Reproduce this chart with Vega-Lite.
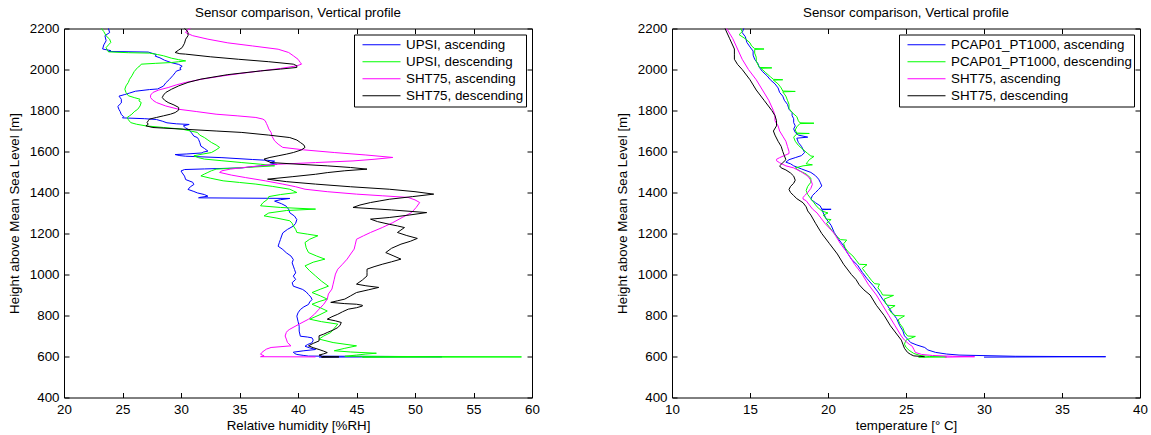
{
"$schema": "https://vega.github.io/schema/vega-lite/v6.json",
"padding": {"left": 6, "top": 5.5, "right": 0, "bottom": 0},
"config": {
  "font": "Liberation Sans",
  "view": {"stroke": "#000", "strokeWidth": 1},
  "axis": {"domain": false, "grid": false, "ticks": true, "tickSize": -5, "tickColor": "#000", "tickWidth": 1, "labelFontSize": 13.33, "labelColor": "#000", "labelFlush": false, "labelOverlap": false, "labelPadding": 10, "titleFontSize": 13.33, "titleFontWeight": "normal", "titleColor": "#000", "format": "d"},
  "axisY": {"titlePadding": 8},
  "axisX": {"titlePadding": 3},
  "title": {"fontSize": 13.33, "fontWeight": "normal", "color": "#000", "baseline": "alphabetic", "offset": 2},
  "legend": {"orient": "top-right", "offset": 6, "strokeColor": "#000", "fillColor": "#fff", "padding": 2, "symbolType": "stroke", "symbolSize": 1444, "symbolStrokeWidth": 1, "clipHeight": 16.5, "rowPadding": 0, "symbolOffset": 6, "labelOffset": 5, "labelFontSize": 13.33, "labelColor": "#000", "labelLimit": 400, "cornerRadius": 0}
},
"datasets": {
"rh": [
{"s":"UPSI, ascending","x":23.8,"h":2200},{"s":"UPSI, ascending","x":23.9,"h":2180},{"s":"UPSI, ascending","x":23.5,"h":2165},{"s":"UPSI, ascending","x":23.6,"h":2140},{"s":"UPSI, ascending","x":23.4,"h":2120},{"s":"UPSI, ascending","x":23.3,"h":2100},{"s":"UPSI, ascending","x":24.0,"h":2092},{"s":"UPSI, ascending","x":23.8,"h":2088},{"s":"UPSI, ascending","x":27.2,"h":2085},{"s":"UPSI, ascending","x":27.6,"h":2078},{"s":"UPSI, ascending","x":27.9,"h":2073},{"s":"UPSI, ascending","x":27.8,"h":2065},{"s":"UPSI, ascending","x":28.2,"h":2057},{"s":"UPSI, ascending","x":28.6,"h":2045},{"s":"UPSI, ascending","x":29.2,"h":2033},{"s":"UPSI, ascending","x":29.8,"h":2025},{"s":"UPSI, ascending","x":30.1,"h":2016},{"s":"UPSI, ascending","x":29.9,"h":2008},{"s":"UPSI, ascending","x":30.0,"h":2000},{"s":"UPSI, ascending","x":29.6,"h":1992},{"s":"UPSI, ascending","x":29.5,"h":1984},{"s":"UPSI, ascending","x":29.3,"h":1970},{"s":"UPSI, ascending","x":29.0,"h":1951},{"s":"UPSI, ascending","x":28.7,"h":1935},{"s":"UPSI, ascending","x":28.5,"h":1919},{"s":"UPSI, ascending","x":28.0,"h":1905},{"s":"UPSI, ascending","x":27.3,"h":1902},{"s":"UPSI, ascending","x":26.1,"h":1894},{"s":"UPSI, ascending","x":25.6,"h":1885},{"s":"UPSI, ascending","x":25.2,"h":1878},{"s":"UPSI, ascending","x":24.7,"h":1870},{"s":"UPSI, ascending","x":24.9,"h":1855},{"s":"UPSI, ascending","x":24.9,"h":1837},{"s":"UPSI, ascending","x":24.6,"h":1820},{"s":"UPSI, ascending","x":24.7,"h":1805},{"s":"UPSI, ascending","x":24.8,"h":1795},{"s":"UPSI, ascending","x":24.9,"h":1780},{"s":"UPSI, ascending","x":25.1,"h":1770},{"s":"UPSI, ascending","x":25.0,"h":1764},{"s":"UPSI, ascending","x":26.9,"h":1760},{"s":"UPSI, ascending","x":27.9,"h":1756},{"s":"UPSI, ascending","x":28.4,"h":1748},{"s":"UPSI, ascending","x":28.8,"h":1740},{"s":"UPSI, ascending","x":29.6,"h":1735},{"s":"UPSI, ascending","x":30.7,"h":1732},{"s":"UPSI, ascending","x":30.2,"h":1725},{"s":"UPSI, ascending","x":30.4,"h":1715},{"s":"UPSI, ascending","x":30.7,"h":1705},{"s":"UPSI, ascending","x":30.9,"h":1691},{"s":"UPSI, ascending","x":31.1,"h":1675},{"s":"UPSI, ascending","x":31.4,"h":1668},{"s":"UPSI, ascending","x":31.5,"h":1659},{"s":"UPSI, ascending","x":31.6,"h":1645},{"s":"UPSI, ascending","x":31.7,"h":1626},{"s":"UPSI, ascending","x":32.0,"h":1615},{"s":"UPSI, ascending","x":32.3,"h":1602},{"s":"UPSI, ascending","x":31.9,"h":1597},{"s":"UPSI, ascending","x":31.8,"h":1593},{"s":"UPSI, ascending","x":30.5,"h":1588},{"s":"UPSI, ascending","x":29.5,"h":1585},{"s":"UPSI, ascending","x":29.9,"h":1580},{"s":"UPSI, ascending","x":30.4,"h":1577},{"s":"UPSI, ascending","x":33.5,"h":1570},{"s":"UPSI, ascending","x":36.1,"h":1561},{"s":"UPSI, ascending","x":37.4,"h":1557},{"s":"UPSI, ascending","x":38.0,"h":1553},{"s":"UPSI, ascending","x":37.6,"h":1545},{"s":"UPSI, ascending","x":38.2,"h":1537},{"s":"UPSI, ascending","x":36.5,"h":1528},{"s":"UPSI, ascending","x":35.2,"h":1520},{"s":"UPSI, ascending","x":32.0,"h":1515},{"s":"UPSI, ascending","x":30.3,"h":1512},{"s":"UPSI, ascending","x":30.0,"h":1505},{"s":"UPSI, ascending","x":30.1,"h":1496},{"s":"UPSI, ascending","x":30.3,"h":1480},{"s":"UPSI, ascending","x":30.4,"h":1463},{"s":"UPSI, ascending","x":31.0,"h":1450},{"s":"UPSI, ascending","x":31.1,"h":1439},{"s":"UPSI, ascending","x":30.8,"h":1428},{"s":"UPSI, ascending","x":30.6,"h":1415},{"s":"UPSI, ascending","x":31.1,"h":1405},{"s":"UPSI, ascending","x":31.4,"h":1398},{"s":"UPSI, ascending","x":32.0,"h":1390},{"s":"UPSI, ascending","x":32.3,"h":1382},{"s":"UPSI, ascending","x":31.6,"h":1376},{"s":"UPSI, ascending","x":31.5,"h":1374},{"s":"UPSI, ascending","x":39.3,"h":1371},{"s":"UPSI, ascending","x":38.5,"h":1365},{"s":"UPSI, ascending","x":38.0,"h":1358},{"s":"UPSI, ascending","x":38.6,"h":1345},{"s":"UPSI, ascending","x":39.0,"h":1333},{"s":"UPSI, ascending","x":39.2,"h":1318},{"s":"UPSI, ascending","x":39.3,"h":1301},{"s":"UPSI, ascending","x":39.7,"h":1285},{"s":"UPSI, ascending","x":39.9,"h":1268},{"s":"UPSI, ascending","x":39.8,"h":1250},{"s":"UPSI, ascending","x":39.6,"h":1236},{"s":"UPSI, ascending","x":39.1,"h":1220},{"s":"UPSI, ascending","x":38.7,"h":1203},{"s":"UPSI, ascending","x":38.6,"h":1188},{"s":"UPSI, ascending","x":38.5,"h":1171},{"s":"UPSI, ascending","x":38.4,"h":1155},{"s":"UPSI, ascending","x":38.3,"h":1138},{"s":"UPSI, ascending","x":38.7,"h":1122},{"s":"UPSI, ascending","x":39.0,"h":1106},{"s":"UPSI, ascending","x":39.4,"h":1090},{"s":"UPSI, ascending","x":39.6,"h":1073},{"s":"UPSI, ascending","x":39.5,"h":1057},{"s":"UPSI, ascending","x":39.6,"h":1041},{"s":"UPSI, ascending","x":39.7,"h":1025},{"s":"UPSI, ascending","x":39.8,"h":1008},{"s":"UPSI, ascending","x":39.6,"h":992},{"s":"UPSI, ascending","x":39.8,"h":976},{"s":"UPSI, ascending","x":39.5,"h":960},{"s":"UPSI, ascending","x":39.6,"h":943},{"s":"UPSI, ascending","x":40.0,"h":935},{"s":"UPSI, ascending","x":40.4,"h":927},{"s":"UPSI, ascending","x":40.7,"h":915},{"s":"UPSI, ascending","x":40.9,"h":902},{"s":"UPSI, ascending","x":41.1,"h":890},{"s":"UPSI, ascending","x":41.2,"h":878},{"s":"UPSI, ascending","x":41.0,"h":866},{"s":"UPSI, ascending","x":40.9,"h":854},{"s":"UPSI, ascending","x":40.5,"h":842},{"s":"UPSI, ascending","x":40.2,"h":829},{"s":"UPSI, ascending","x":40.0,"h":813},{"s":"UPSI, ascending","x":39.9,"h":797},{"s":"UPSI, ascending","x":40.0,"h":772},{"s":"UPSI, ascending","x":40.1,"h":748},{"s":"UPSI, ascending","x":40.1,"h":724},{"s":"UPSI, ascending","x":40.2,"h":699},{"s":"UPSI, ascending","x":40.8,"h":695},{"s":"UPSI, ascending","x":41.2,"h":691},{"s":"UPSI, ascending","x":41.3,"h":680},{"s":"UPSI, ascending","x":41.2,"h":667},{"s":"UPSI, ascending","x":40.8,"h":658},{"s":"UPSI, ascending","x":40.6,"h":650},{"s":"UPSI, ascending","x":41.0,"h":642},{"s":"UPSI, ascending","x":41.5,"h":634},{"s":"UPSI, ascending","x":40.5,"h":628},{"s":"UPSI, ascending","x":39.6,"h":621},{"s":"UPSI, ascending","x":39.7,"h":615},{"s":"UPSI, ascending","x":39.9,"h":610},{"s":"UPSI, ascending","x":40.5,"h":605},{"s":"UPSI, ascending","x":40.9,"h":602},{"s":"UPSI, ascending","x":52.3,"h":599},{"s":"UPSI, ascending","x":41.8,"h":597},
{"s":"UPSI, descending","x":23.2,"h":2200},{"s":"UPSI, descending","x":23.4,"h":2185},{"s":"UPSI, descending","x":23.6,"h":2164},{"s":"UPSI, descending","x":23.9,"h":2148},{"s":"UPSI, descending","x":24.0,"h":2132},{"s":"UPSI, descending","x":23.8,"h":2120},{"s":"UPSI, descending","x":23.6,"h":2107},{"s":"UPSI, descending","x":23.7,"h":2095},{"s":"UPSI, descending","x":23.8,"h":2086},{"s":"UPSI, descending","x":25.5,"h":2082},{"s":"UPSI, descending","x":27.3,"h":2080},{"s":"UPSI, descending","x":28.0,"h":2073},{"s":"UPSI, descending","x":28.5,"h":2067},{"s":"UPSI, descending","x":29.2,"h":2055},{"s":"UPSI, descending","x":29.8,"h":2048},{"s":"UPSI, descending","x":30.4,"h":2042},{"s":"UPSI, descending","x":29.8,"h":2038},{"s":"UPSI, descending","x":29.2,"h":2034},{"s":"UPSI, descending","x":27.8,"h":2030},{"s":"UPSI, descending","x":26.6,"h":2026},{"s":"UPSI, descending","x":26.5,"h":2018},{"s":"UPSI, descending","x":26.3,"h":2010},{"s":"UPSI, descending","x":26.0,"h":1990},{"s":"UPSI, descending","x":25.8,"h":1969},{"s":"UPSI, descending","x":25.6,"h":1952},{"s":"UPSI, descending","x":25.5,"h":1937},{"s":"UPSI, descending","x":25.3,"h":1920},{"s":"UPSI, descending","x":25.2,"h":1904},{"s":"UPSI, descending","x":25.3,"h":1888},{"s":"UPSI, descending","x":25.5,"h":1872},{"s":"UPSI, descending","x":26.0,"h":1863},{"s":"UPSI, descending","x":26.5,"h":1855},{"s":"UPSI, descending","x":26.4,"h":1847},{"s":"UPSI, descending","x":26.6,"h":1839},{"s":"UPSI, descending","x":26.5,"h":1822},{"s":"UPSI, descending","x":26.3,"h":1806},{"s":"UPSI, descending","x":26.0,"h":1794},{"s":"UPSI, descending","x":25.8,"h":1782},{"s":"UPSI, descending","x":25.6,"h":1774},{"s":"UPSI, descending","x":25.4,"h":1766},{"s":"UPSI, descending","x":25.5,"h":1755},{"s":"UPSI, descending","x":25.7,"h":1741},{"s":"UPSI, descending","x":26.2,"h":1733},{"s":"UPSI, descending","x":27.0,"h":1725},{"s":"UPSI, descending","x":28.5,"h":1717},{"s":"UPSI, descending","x":30.1,"h":1709},{"s":"UPSI, descending","x":30.8,"h":1700},{"s":"UPSI, descending","x":31.4,"h":1693},{"s":"UPSI, descending","x":31.6,"h":1680},{"s":"UPSI, descending","x":32.0,"h":1668},{"s":"UPSI, descending","x":32.3,"h":1656},{"s":"UPSI, descending","x":32.6,"h":1644},{"s":"UPSI, descending","x":33.0,"h":1632},{"s":"UPSI, descending","x":33.3,"h":1620},{"s":"UPSI, descending","x":33.0,"h":1608},{"s":"UPSI, descending","x":32.6,"h":1595},{"s":"UPSI, descending","x":31.8,"h":1587},{"s":"UPSI, descending","x":31.1,"h":1579},{"s":"UPSI, descending","x":31.5,"h":1570},{"s":"UPSI, descending","x":32.0,"h":1563},{"s":"UPSI, descending","x":33.5,"h":1555},{"s":"UPSI, descending","x":35.2,"h":1546},{"s":"UPSI, descending","x":36.8,"h":1538},{"s":"UPSI, descending","x":38.0,"h":1530},{"s":"UPSI, descending","x":35.5,"h":1522},{"s":"UPSI, descending","x":33.0,"h":1514},{"s":"UPSI, descending","x":32.6,"h":1506},{"s":"UPSI, descending","x":32.3,"h":1498},{"s":"UPSI, descending","x":32.0,"h":1490},{"s":"UPSI, descending","x":31.7,"h":1481},{"s":"UPSI, descending","x":32.5,"h":1470},{"s":"UPSI, descending","x":33.6,"h":1457},{"s":"UPSI, descending","x":35.0,"h":1449},{"s":"UPSI, descending","x":36.4,"h":1441},{"s":"UPSI, descending","x":37.8,"h":1430},{"s":"UPSI, descending","x":39.3,"h":1416},{"s":"UPSI, descending","x":39.6,"h":1408},{"s":"UPSI, descending","x":39.9,"h":1400},{"s":"UPSI, descending","x":38.5,"h":1390},{"s":"UPSI, descending","x":37.5,"h":1380},{"s":"UPSI, descending","x":37.4,"h":1367},{"s":"UPSI, descending","x":37.0,"h":1350},{"s":"UPSI, descending","x":36.8,"h":1335},{"s":"UPSI, descending","x":38.5,"h":1327},{"s":"UPSI, descending","x":41.5,"h":1319},{"s":"UPSI, descending","x":39.0,"h":1312},{"s":"UPSI, descending","x":37.5,"h":1300},{"s":"UPSI, descending","x":37.1,"h":1286},{"s":"UPSI, descending","x":38.2,"h":1275},{"s":"UPSI, descending","x":39.3,"h":1262},{"s":"UPSI, descending","x":39.5,"h":1250},{"s":"UPSI, descending","x":39.6,"h":1237},{"s":"UPSI, descending","x":39.8,"h":1220},{"s":"UPSI, descending","x":39.9,"h":1205},{"s":"UPSI, descending","x":40.8,"h":1197},{"s":"UPSI, descending","x":41.7,"h":1189},{"s":"UPSI, descending","x":41.0,"h":1172},{"s":"UPSI, descending","x":40.6,"h":1156},{"s":"UPSI, descending","x":40.7,"h":1130},{"s":"UPSI, descending","x":40.9,"h":1107},{"s":"UPSI, descending","x":41.6,"h":1090},{"s":"UPSI, descending","x":42.3,"h":1075},{"s":"UPSI, descending","x":41.3,"h":1060},{"s":"UPSI, descending","x":40.6,"h":1042},{"s":"UPSI, descending","x":41.0,"h":1018},{"s":"UPSI, descending","x":41.5,"h":993},{"s":"UPSI, descending","x":42.0,"h":968},{"s":"UPSI, descending","x":42.6,"h":943},{"s":"UPSI, descending","x":41.9,"h":928},{"s":"UPSI, descending","x":41.2,"h":912},{"s":"UPSI, descending","x":41.9,"h":896},{"s":"UPSI, descending","x":42.5,"h":880},{"s":"UPSI, descending","x":41.8,"h":868},{"s":"UPSI, descending","x":41.2,"h":855},{"s":"UPSI, descending","x":41.9,"h":838},{"s":"UPSI, descending","x":42.5,"h":822},{"s":"UPSI, descending","x":41.8,"h":802},{"s":"UPSI, descending","x":41.0,"h":782},{"s":"UPSI, descending","x":42.0,"h":770},{"s":"UPSI, descending","x":43.4,"h":758},{"s":"UPSI, descending","x":43.1,"h":738},{"s":"UPSI, descending","x":42.8,"h":717},{"s":"UPSI, descending","x":42.2,"h":700},{"s":"UPSI, descending","x":41.8,"h":685},{"s":"UPSI, descending","x":43.0,"h":668},{"s":"UPSI, descending","x":45.0,"h":652},{"s":"UPSI, descending","x":44.0,"h":640},{"s":"UPSI, descending","x":43.1,"h":628},{"s":"UPSI, descending","x":44.5,"h":622},{"s":"UPSI, descending","x":46.7,"h":616},{"s":"UPSI, descending","x":45.8,"h":612},{"s":"UPSI, descending","x":45.0,"h":607},{"s":"UPSI, descending","x":44.0,"h":601},{"s":"UPSI, descending","x":59.1,"h":598},{"s":"UPSI, descending","x":45.5,"h":596},
{"s":"SHT75, ascending","x":30.8,"h":2200},{"s":"SHT75, ascending","x":30.5,"h":2190},{"s":"SHT75, ascending","x":30.4,"h":2180},{"s":"SHT75, ascending","x":31.0,"h":2165},{"s":"SHT75, ascending","x":32.3,"h":2148},{"s":"SHT75, ascending","x":34.0,"h":2130},{"s":"SHT75, ascending","x":36.1,"h":2115},{"s":"SHT75, ascending","x":38.3,"h":2099},{"s":"SHT75, ascending","x":39.2,"h":2083},{"s":"SHT75, ascending","x":39.6,"h":2067},{"s":"SHT75, ascending","x":40.0,"h":2050},{"s":"SHT75, ascending","x":40.2,"h":2034},{"s":"SHT75, ascending","x":40.3,"h":2026},{"s":"SHT75, ascending","x":39.9,"h":2018},{"s":"SHT75, ascending","x":38.5,"h":2005},{"s":"SHT75, ascending","x":36.8,"h":1993},{"s":"SHT75, ascending","x":35.0,"h":1980},{"s":"SHT75, ascending","x":33.6,"h":1969},{"s":"SHT75, ascending","x":31.8,"h":1953},{"s":"SHT75, ascending","x":30.4,"h":1937},{"s":"SHT75, ascending","x":29.6,"h":1925},{"s":"SHT75, ascending","x":28.9,"h":1912},{"s":"SHT75, ascending","x":28.1,"h":1900},{"s":"SHT75, ascending","x":27.6,"h":1888},{"s":"SHT75, ascending","x":27.4,"h":1875},{"s":"SHT75, ascending","x":27.4,"h":1863},{"s":"SHT75, ascending","x":27.6,"h":1850},{"s":"SHT75, ascending","x":27.9,"h":1839},{"s":"SHT75, ascending","x":28.7,"h":1822},{"s":"SHT75, ascending","x":29.8,"h":1806},{"s":"SHT75, ascending","x":31.3,"h":1795},{"s":"SHT75, ascending","x":33.0,"h":1782},{"s":"SHT75, ascending","x":34.8,"h":1774},{"s":"SHT75, ascending","x":36.4,"h":1766},{"s":"SHT75, ascending","x":37.0,"h":1758},{"s":"SHT75, ascending","x":37.2,"h":1750},{"s":"SHT75, ascending","x":37.3,"h":1737},{"s":"SHT75, ascending","x":37.4,"h":1725},{"s":"SHT75, ascending","x":37.5,"h":1710},{"s":"SHT75, ascending","x":37.7,"h":1693},{"s":"SHT75, ascending","x":37.8,"h":1672},{"s":"SHT75, ascending","x":38.0,"h":1652},{"s":"SHT75, ascending","x":38.3,"h":1636},{"s":"SHT75, ascending","x":38.7,"h":1620},{"s":"SHT75, ascending","x":40.5,"h":1608},{"s":"SHT75, ascending","x":43.1,"h":1595},{"s":"SHT75, ascending","x":45.8,"h":1583},{"s":"SHT75, ascending","x":48.1,"h":1571},{"s":"SHT75, ascending","x":46.5,"h":1562},{"s":"SHT75, ascending","x":44.7,"h":1554},{"s":"SHT75, ascending","x":41.5,"h":1546},{"s":"SHT75, ascending","x":38.3,"h":1538},{"s":"SHT75, ascending","x":36.0,"h":1526},{"s":"SHT75, ascending","x":34.2,"h":1514},{"s":"SHT75, ascending","x":33.5,"h":1506},{"s":"SHT75, ascending","x":33.3,"h":1498},{"s":"SHT75, ascending","x":34.3,"h":1485},{"s":"SHT75, ascending","x":35.5,"h":1473},{"s":"SHT75, ascending","x":37.2,"h":1457},{"s":"SHT75, ascending","x":38.7,"h":1441},{"s":"SHT75, ascending","x":39.8,"h":1428},{"s":"SHT75, ascending","x":40.6,"h":1416},{"s":"SHT75, ascending","x":42.5,"h":1404},{"s":"SHT75, ascending","x":45.0,"h":1392},{"s":"SHT75, ascending","x":47.2,"h":1384},{"s":"SHT75, ascending","x":49.4,"h":1376},{"s":"SHT75, ascending","x":50.0,"h":1364},{"s":"SHT75, ascending","x":50.4,"h":1351},{"s":"SHT75, ascending","x":50.1,"h":1327},{"s":"SHT75, ascending","x":49.7,"h":1302},{"s":"SHT75, ascending","x":48.9,"h":1278},{"s":"SHT75, ascending","x":48.1,"h":1253},{"s":"SHT75, ascending","x":47.2,"h":1229},{"s":"SHT75, ascending","x":46.2,"h":1205},{"s":"SHT75, ascending","x":45.6,"h":1189},{"s":"SHT75, ascending","x":45.0,"h":1172},{"s":"SHT75, ascending","x":44.9,"h":1148},{"s":"SHT75, ascending","x":44.8,"h":1124},{"s":"SHT75, ascending","x":44.5,"h":1100},{"s":"SHT75, ascending","x":44.2,"h":1075},{"s":"SHT75, ascending","x":43.8,"h":1050},{"s":"SHT75, ascending","x":43.4,"h":1026},{"s":"SHT75, ascending","x":43.2,"h":1002},{"s":"SHT75, ascending","x":43.1,"h":977},{"s":"SHT75, ascending","x":43.0,"h":953},{"s":"SHT75, ascending","x":42.9,"h":929},{"s":"SHT75, ascending","x":42.6,"h":905},{"s":"SHT75, ascending","x":42.5,"h":880},{"s":"SHT75, ascending","x":42.2,"h":855},{"s":"SHT75, ascending","x":41.8,"h":831},{"s":"SHT75, ascending","x":41.4,"h":806},{"s":"SHT75, ascending","x":40.9,"h":782},{"s":"SHT75, ascending","x":40.1,"h":758},{"s":"SHT75, ascending","x":39.3,"h":733},{"s":"SHT75, ascending","x":39.1,"h":725},{"s":"SHT75, ascending","x":39.0,"h":717},{"s":"SHT75, ascending","x":38.9,"h":700},{"s":"SHT75, ascending","x":39.0,"h":685},{"s":"SHT75, ascending","x":39.1,"h":668},{"s":"SHT75, ascending","x":39.4,"h":652},{"s":"SHT75, ascending","x":37.7,"h":644},{"s":"SHT75, ascending","x":37.3,"h":636},{"s":"SHT75, ascending","x":37.1,"h":628},{"s":"SHT75, ascending","x":36.9,"h":619},{"s":"SHT75, ascending","x":36.8,"h":611},{"s":"SHT75, ascending","x":37.1,"h":603},{"s":"SHT75, ascending","x":36.8,"h":599},{"s":"SHT75, ascending","x":41.5,"h":598},
{"s":"SHT75, descending","x":30.3,"h":2200},{"s":"SHT75, descending","x":30.5,"h":2190},{"s":"SHT75, descending","x":30.6,"h":2180},{"s":"SHT75, descending","x":30.6,"h":2165},{"s":"SHT75, descending","x":30.4,"h":2148},{"s":"SHT75, descending","x":30.3,"h":2128},{"s":"SHT75, descending","x":30.1,"h":2107},{"s":"SHT75, descending","x":29.8,"h":2095},{"s":"SHT75, descending","x":29.5,"h":2083},{"s":"SHT75, descending","x":29.9,"h":2077},{"s":"SHT75, descending","x":30.4,"h":2075},{"s":"SHT75, descending","x":32.5,"h":2062},{"s":"SHT75, descending","x":34.9,"h":2050},{"s":"SHT75, descending","x":37.5,"h":2038},{"s":"SHT75, descending","x":39.6,"h":2026},{"s":"SHT75, descending","x":39.9,"h":2018},{"s":"SHT75, descending","x":39.9,"h":2010},{"s":"SHT75, descending","x":38.5,"h":2002},{"s":"SHT75, descending","x":36.8,"h":1993},{"s":"SHT75, descending","x":34.0,"h":1975},{"s":"SHT75, descending","x":31.7,"h":1953},{"s":"SHT75, descending","x":30.6,"h":1937},{"s":"SHT75, descending","x":29.8,"h":1920},{"s":"SHT75, descending","x":29.2,"h":1904},{"s":"SHT75, descending","x":28.7,"h":1888},{"s":"SHT75, descending","x":28.5,"h":1875},{"s":"SHT75, descending","x":28.4,"h":1863},{"s":"SHT75, descending","x":28.6,"h":1850},{"s":"SHT75, descending","x":28.9,"h":1839},{"s":"SHT75, descending","x":29.4,"h":1827},{"s":"SHT75, descending","x":29.8,"h":1815},{"s":"SHT75, descending","x":29.8,"h":1802},{"s":"SHT75, descending","x":29.5,"h":1790},{"s":"SHT75, descending","x":29.1,"h":1782},{"s":"SHT75, descending","x":28.5,"h":1774},{"s":"SHT75, descending","x":27.9,"h":1766},{"s":"SHT75, descending","x":27.3,"h":1758},{"s":"SHT75, descending","x":27.2,"h":1750},{"s":"SHT75, descending","x":27.1,"h":1741},{"s":"SHT75, descending","x":27.2,"h":1733},{"s":"SHT75, descending","x":27.0,"h":1725},{"s":"SHT75, descending","x":27.6,"h":1717},{"s":"SHT75, descending","x":30.5,"h":1708},{"s":"SHT75, descending","x":33.0,"h":1700},{"s":"SHT75, descending","x":35.2,"h":1693},{"s":"SHT75, descending","x":37.5,"h":1680},{"s":"SHT75, descending","x":39.3,"h":1668},{"s":"SHT75, descending","x":39.9,"h":1656},{"s":"SHT75, descending","x":40.2,"h":1644},{"s":"SHT75, descending","x":40.5,"h":1632},{"s":"SHT75, descending","x":40.6,"h":1620},{"s":"SHT75, descending","x":40.3,"h":1608},{"s":"SHT75, descending","x":39.6,"h":1595},{"s":"SHT75, descending","x":39.0,"h":1587},{"s":"SHT75, descending","x":38.3,"h":1579},{"s":"SHT75, descending","x":37.6,"h":1571},{"s":"SHT75, descending","x":37.1,"h":1563},{"s":"SHT75, descending","x":37.3,"h":1555},{"s":"SHT75, descending","x":37.7,"h":1546},{"s":"SHT75, descending","x":40.0,"h":1538},{"s":"SHT75, descending","x":42.5,"h":1530},{"s":"SHT75, descending","x":44.5,"h":1522},{"s":"SHT75, descending","x":45.9,"h":1514},{"s":"SHT75, descending","x":44.0,"h":1506},{"s":"SHT75, descending","x":42.5,"h":1497},{"s":"SHT75, descending","x":41.5,"h":1489},{"s":"SHT75, descending","x":39.5,"h":1477},{"s":"SHT75, descending","x":37.4,"h":1465},{"s":"SHT75, descending","x":39.0,"h":1453},{"s":"SHT75, descending","x":41.5,"h":1441},{"s":"SHT75, descending","x":44.5,"h":1428},{"s":"SHT75, descending","x":47.8,"h":1416},{"s":"SHT75, descending","x":50.0,"h":1404},{"s":"SHT75, descending","x":51.6,"h":1392},{"s":"SHT75, descending","x":49.8,"h":1380},{"s":"SHT75, descending","x":47.8,"h":1367},{"s":"SHT75, descending","x":47.0,"h":1359},{"s":"SHT75, descending","x":46.2,"h":1351},{"s":"SHT75, descending","x":45.3,"h":1339},{"s":"SHT75, descending","x":44.7,"h":1327},{"s":"SHT75, descending","x":48.0,"h":1315},{"s":"SHT75, descending","x":51.0,"h":1302},{"s":"SHT75, descending","x":49.5,"h":1290},{"s":"SHT75, descending","x":47.8,"h":1278},{"s":"SHT75, descending","x":46.2,"h":1270},{"s":"SHT75, descending","x":46.8,"h":1258},{"s":"SHT75, descending","x":47.8,"h":1245},{"s":"SHT75, descending","x":48.5,"h":1237},{"s":"SHT75, descending","x":49.1,"h":1229},{"s":"SHT75, descending","x":48.8,"h":1217},{"s":"SHT75, descending","x":48.5,"h":1205},{"s":"SHT75, descending","x":49.3,"h":1190},{"s":"SHT75, descending","x":50.2,"h":1176},{"s":"SHT75, descending","x":49.6,"h":1162},{"s":"SHT75, descending","x":48.8,"h":1148},{"s":"SHT75, descending","x":48.0,"h":1128},{"s":"SHT75, descending","x":47.5,"h":1107},{"s":"SHT75, descending","x":48.2,"h":1090},{"s":"SHT75, descending","x":48.8,"h":1075},{"s":"SHT75, descending","x":48.0,"h":1062},{"s":"SHT75, descending","x":47.2,"h":1050},{"s":"SHT75, descending","x":46.5,"h":1038},{"s":"SHT75, descending","x":45.9,"h":1026},{"s":"SHT75, descending","x":45.9,"h":1010},{"s":"SHT75, descending","x":45.9,"h":993},{"s":"SHT75, descending","x":45.5,"h":973},{"s":"SHT75, descending","x":45.0,"h":953},{"s":"SHT75, descending","x":45.8,"h":945},{"s":"SHT75, descending","x":46.9,"h":937},{"s":"SHT75, descending","x":46.0,"h":925},{"s":"SHT75, descending","x":45.0,"h":912},{"s":"SHT75, descending","x":44.5,"h":896},{"s":"SHT75, descending","x":44.0,"h":880},{"s":"SHT75, descending","x":43.4,"h":872},{"s":"SHT75, descending","x":42.8,"h":864},{"s":"SHT75, descending","x":44.0,"h":858},{"s":"SHT75, descending","x":45.0,"h":855},{"s":"SHT75, descending","x":45.5,"h":850},{"s":"SHT75, descending","x":45.5,"h":846},{"s":"SHT75, descending","x":45.0,"h":838},{"s":"SHT75, descending","x":44.3,"h":831},{"s":"SHT75, descending","x":43.8,"h":818},{"s":"SHT75, descending","x":43.4,"h":806},{"s":"SHT75, descending","x":42.9,"h":794},{"s":"SHT75, descending","x":42.5,"h":782},{"s":"SHT75, descending","x":43.2,"h":774},{"s":"SHT75, descending","x":43.7,"h":766},{"s":"SHT75, descending","x":43.6,"h":753},{"s":"SHT75, descending","x":43.4,"h":741},{"s":"SHT75, descending","x":43.0,"h":729},{"s":"SHT75, descending","x":42.5,"h":717},{"s":"SHT75, descending","x":42.2,"h":709},{"s":"SHT75, descending","x":41.8,"h":701},{"s":"SHT75, descending","x":41.8,"h":688},{"s":"SHT75, descending","x":41.8,"h":676},{"s":"SHT75, descending","x":41.3,"h":664},{"s":"SHT75, descending","x":40.9,"h":652},{"s":"SHT75, descending","x":41.3,"h":643},{"s":"SHT75, descending","x":41.8,"h":634},{"s":"SHT75, descending","x":42.2,"h":626},{"s":"SHT75, descending","x":42.5,"h":619},{"s":"SHT75, descending","x":42.2,"h":613},{"s":"SHT75, descending","x":41.8,"h":607},{"s":"SHT75, descending","x":42.1,"h":600},{"s":"SHT75, descending","x":43.5,"h":598},{"s":"SHT75, descending","x":42.0,"h":596}
],
"tp": [
{"s":"PCAP01_PT1000, ascending","x":14.6,"h":2200},{"s":"PCAP01_PT1000, ascending","x":14.5,"h":2180},{"s":"PCAP01_PT1000, ascending","x":14.7,"h":2160},{"s":"PCAP01_PT1000, ascending","x":14.8,"h":2132},{"s":"PCAP01_PT1000, ascending","x":15.0,"h":2110},{"s":"PCAP01_PT1000, ascending","x":15.2,"h":2090},{"s":"PCAP01_PT1000, ascending","x":15.2,"h":2070},{"s":"PCAP01_PT1000, ascending","x":15.3,"h":2050},{"s":"PCAP01_PT1000, ascending","x":15.5,"h":2030},{"s":"PCAP01_PT1000, ascending","x":15.6,"h":2010},{"s":"PCAP01_PT1000, ascending","x":15.8,"h":1990},{"s":"PCAP01_PT1000, ascending","x":16.1,"h":1969},{"s":"PCAP01_PT1000, ascending","x":16.3,"h":1950},{"s":"PCAP01_PT1000, ascending","x":16.6,"h":1930},{"s":"PCAP01_PT1000, ascending","x":16.8,"h":1910},{"s":"PCAP01_PT1000, ascending","x":16.9,"h":1888},{"s":"PCAP01_PT1000, ascending","x":17.1,"h":1870},{"s":"PCAP01_PT1000, ascending","x":17.2,"h":1850},{"s":"PCAP01_PT1000, ascending","x":17.4,"h":1830},{"s":"PCAP01_PT1000, ascending","x":17.5,"h":1806},{"s":"PCAP01_PT1000, ascending","x":17.7,"h":1790},{"s":"PCAP01_PT1000, ascending","x":17.7,"h":1775},{"s":"PCAP01_PT1000, ascending","x":17.8,"h":1760},{"s":"PCAP01_PT1000, ascending","x":17.8,"h":1741},{"s":"PCAP01_PT1000, ascending","x":17.9,"h":1725},{"s":"PCAP01_PT1000, ascending","x":17.8,"h":1710},{"s":"PCAP01_PT1000, ascending","x":17.9,"h":1693},{"s":"PCAP01_PT1000, ascending","x":18.1,"h":1680},{"s":"PCAP01_PT1000, ascending","x":18.7,"h":1670},{"s":"PCAP01_PT1000, ascending","x":18.0,"h":1665},{"s":"PCAP01_PT1000, ascending","x":18.1,"h":1644},{"s":"PCAP01_PT1000, ascending","x":18.3,"h":1625},{"s":"PCAP01_PT1000, ascending","x":18.4,"h":1610},{"s":"PCAP01_PT1000, ascending","x":18.5,"h":1595},{"s":"PCAP01_PT1000, ascending","x":18.3,"h":1580},{"s":"PCAP01_PT1000, ascending","x":17.9,"h":1570},{"s":"PCAP01_PT1000, ascending","x":17.5,"h":1560},{"s":"PCAP01_PT1000, ascending","x":17.3,"h":1548},{"s":"PCAP01_PT1000, ascending","x":17.6,"h":1540},{"s":"PCAP01_PT1000, ascending","x":17.8,"h":1530},{"s":"PCAP01_PT1000, ascending","x":18.3,"h":1515},{"s":"PCAP01_PT1000, ascending","x":18.9,"h":1498},{"s":"PCAP01_PT1000, ascending","x":19.2,"h":1482},{"s":"PCAP01_PT1000, ascending","x":19.4,"h":1465},{"s":"PCAP01_PT1000, ascending","x":19.5,"h":1450},{"s":"PCAP01_PT1000, ascending","x":19.6,"h":1432},{"s":"PCAP01_PT1000, ascending","x":19.4,"h":1415},{"s":"PCAP01_PT1000, ascending","x":19.2,"h":1400},{"s":"PCAP01_PT1000, ascending","x":19.0,"h":1385},{"s":"PCAP01_PT1000, ascending","x":18.9,"h":1367},{"s":"PCAP01_PT1000, ascending","x":19.2,"h":1350},{"s":"PCAP01_PT1000, ascending","x":19.5,"h":1335},{"s":"PCAP01_PT1000, ascending","x":19.6,"h":1319},{"s":"PCAP01_PT1000, ascending","x":20.2,"h":1318},{"s":"PCAP01_PT1000, ascending","x":19.6,"h":1316},{"s":"PCAP01_PT1000, ascending","x":19.7,"h":1300},{"s":"PCAP01_PT1000, ascending","x":19.8,"h":1285},{"s":"PCAP01_PT1000, ascending","x":19.9,"h":1270},{"s":"PCAP01_PT1000, ascending","x":20.2,"h":1240},{"s":"PCAP01_PT1000, ascending","x":20.4,"h":1205},{"s":"PCAP01_PT1000, ascending","x":20.7,"h":1170},{"s":"PCAP01_PT1000, ascending","x":21.0,"h":1140},{"s":"PCAP01_PT1000, ascending","x":21.2,"h":1110},{"s":"PCAP01_PT1000, ascending","x":21.5,"h":1075},{"s":"PCAP01_PT1000, ascending","x":21.9,"h":1045},{"s":"PCAP01_PT1000, ascending","x":22.2,"h":1010},{"s":"PCAP01_PT1000, ascending","x":22.5,"h":980},{"s":"PCAP01_PT1000, ascending","x":22.9,"h":945},{"s":"PCAP01_PT1000, ascending","x":23.2,"h":915},{"s":"PCAP01_PT1000, ascending","x":23.5,"h":880},{"s":"PCAP01_PT1000, ascending","x":23.8,"h":850},{"s":"PCAP01_PT1000, ascending","x":24.1,"h":815},{"s":"PCAP01_PT1000, ascending","x":24.4,"h":785},{"s":"PCAP01_PT1000, ascending","x":24.6,"h":750},{"s":"PCAP01_PT1000, ascending","x":24.8,"h":725},{"s":"PCAP01_PT1000, ascending","x":24.9,"h":701},{"s":"PCAP01_PT1000, ascending","x":25.1,"h":685},{"s":"PCAP01_PT1000, ascending","x":25.3,"h":668},{"s":"PCAP01_PT1000, ascending","x":25.7,"h":656},{"s":"PCAP01_PT1000, ascending","x":26.2,"h":644},{"s":"PCAP01_PT1000, ascending","x":26.4,"h":632},{"s":"PCAP01_PT1000, ascending","x":26.9,"h":620},{"s":"PCAP01_PT1000, ascending","x":27.6,"h":612},{"s":"PCAP01_PT1000, ascending","x":28.4,"h":607},{"s":"PCAP01_PT1000, ascending","x":32.0,"h":601},{"s":"PCAP01_PT1000, ascending","x":37.8,"h":599},{"s":"PCAP01_PT1000, ascending","x":30.0,"h":597},
{"s":"PCAP01_PT1000, descending","x":14.4,"h":2200},{"s":"PCAP01_PT1000, descending","x":14.5,"h":2185},{"s":"PCAP01_PT1000, descending","x":14.3,"h":2170},{"s":"PCAP01_PT1000, descending","x":14.7,"h":2150},{"s":"PCAP01_PT1000, descending","x":15.0,"h":2130},{"s":"PCAP01_PT1000, descending","x":15.1,"h":2115},{"s":"PCAP01_PT1000, descending","x":15.3,"h":2102},{"s":"PCAP01_PT1000, descending","x":15.9,"h":2100},{"s":"PCAP01_PT1000, descending","x":15.3,"h":2098},{"s":"PCAP01_PT1000, descending","x":15.3,"h":2080},{"s":"PCAP01_PT1000, descending","x":15.4,"h":2060},{"s":"PCAP01_PT1000, descending","x":15.4,"h":2040},{"s":"PCAP01_PT1000, descending","x":15.6,"h":2010},{"s":"PCAP01_PT1000, descending","x":16.4,"h":2008},{"s":"PCAP01_PT1000, descending","x":15.7,"h":2006},{"s":"PCAP01_PT1000, descending","x":16.0,"h":1985},{"s":"PCAP01_PT1000, descending","x":16.3,"h":1965},{"s":"PCAP01_PT1000, descending","x":16.5,"h":1952},{"s":"PCAP01_PT1000, descending","x":17.1,"h":1950},{"s":"PCAP01_PT1000, descending","x":16.5,"h":1948},{"s":"PCAP01_PT1000, descending","x":16.8,"h":1930},{"s":"PCAP01_PT1000, descending","x":17.0,"h":1910},{"s":"PCAP01_PT1000, descending","x":17.1,"h":1895},{"s":"PCAP01_PT1000, descending","x":17.9,"h":1893},{"s":"PCAP01_PT1000, descending","x":17.1,"h":1891},{"s":"PCAP01_PT1000, descending","x":17.3,"h":1870},{"s":"PCAP01_PT1000, descending","x":17.4,"h":1850},{"s":"PCAP01_PT1000, descending","x":17.5,"h":1830},{"s":"PCAP01_PT1000, descending","x":17.5,"h":1810},{"s":"PCAP01_PT1000, descending","x":17.7,"h":1790},{"s":"PCAP01_PT1000, descending","x":18.0,"h":1770},{"s":"PCAP01_PT1000, descending","x":18.1,"h":1750},{"s":"PCAP01_PT1000, descending","x":18.2,"h":1740},{"s":"PCAP01_PT1000, descending","x":19.1,"h":1738},{"s":"PCAP01_PT1000, descending","x":18.2,"h":1736},{"s":"PCAP01_PT1000, descending","x":18.0,"h":1720},{"s":"PCAP01_PT1000, descending","x":17.9,"h":1705},{"s":"PCAP01_PT1000, descending","x":18.0,"h":1690},{"s":"PCAP01_PT1000, descending","x":18.8,"h":1688},{"s":"PCAP01_PT1000, descending","x":18.0,"h":1686},{"s":"PCAP01_PT1000, descending","x":17.8,"h":1670},{"s":"PCAP01_PT1000, descending","x":17.9,"h":1650},{"s":"PCAP01_PT1000, descending","x":18.1,"h":1630},{"s":"PCAP01_PT1000, descending","x":18.4,"h":1610},{"s":"PCAP01_PT1000, descending","x":18.7,"h":1590},{"s":"PCAP01_PT1000, descending","x":18.9,"h":1578},{"s":"PCAP01_PT1000, descending","x":19.1,"h":1576},{"s":"PCAP01_PT1000, descending","x":18.8,"h":1560},{"s":"PCAP01_PT1000, descending","x":18.7,"h":1550},{"s":"PCAP01_PT1000, descending","x":18.6,"h":1540},{"s":"PCAP01_PT1000, descending","x":19.0,"h":1535},{"s":"PCAP01_PT1000, descending","x":18.4,"h":1530},{"s":"PCAP01_PT1000, descending","x":17.9,"h":1520},{"s":"PCAP01_PT1000, descending","x":18.2,"h":1505},{"s":"PCAP01_PT1000, descending","x":18.6,"h":1490},{"s":"PCAP01_PT1000, descending","x":18.9,"h":1470},{"s":"PCAP01_PT1000, descending","x":18.9,"h":1450},{"s":"PCAP01_PT1000, descending","x":18.7,"h":1430},{"s":"PCAP01_PT1000, descending","x":18.6,"h":1410},{"s":"PCAP01_PT1000, descending","x":18.7,"h":1390},{"s":"PCAP01_PT1000, descending","x":18.9,"h":1370},{"s":"PCAP01_PT1000, descending","x":19.1,"h":1350},{"s":"PCAP01_PT1000, descending","x":19.3,"h":1330},{"s":"PCAP01_PT1000, descending","x":19.6,"h":1310},{"s":"PCAP01_PT1000, descending","x":20.0,"h":1300},{"s":"PCAP01_PT1000, descending","x":19.7,"h":1290},{"s":"PCAP01_PT1000, descending","x":19.9,"h":1270},{"s":"PCAP01_PT1000, descending","x":20.2,"h":1268},{"s":"PCAP01_PT1000, descending","x":19.9,"h":1250},{"s":"PCAP01_PT1000, descending","x":20.1,"h":1230},{"s":"PCAP01_PT1000, descending","x":20.3,"h":1210},{"s":"PCAP01_PT1000, descending","x":20.5,"h":1190},{"s":"PCAP01_PT1000, descending","x":20.8,"h":1170},{"s":"PCAP01_PT1000, descending","x":21.2,"h":1168},{"s":"PCAP01_PT1000, descending","x":21.0,"h":1150},{"s":"PCAP01_PT1000, descending","x":21.1,"h":1130},{"s":"PCAP01_PT1000, descending","x":21.3,"h":1110},{"s":"PCAP01_PT1000, descending","x":21.6,"h":1090},{"s":"PCAP01_PT1000, descending","x":21.8,"h":1070},{"s":"PCAP01_PT1000, descending","x":22.0,"h":1050},{"s":"PCAP01_PT1000, descending","x":22.5,"h":1048},{"s":"PCAP01_PT1000, descending","x":22.2,"h":1030},{"s":"PCAP01_PT1000, descending","x":22.4,"h":1010},{"s":"PCAP01_PT1000, descending","x":22.6,"h":990},{"s":"PCAP01_PT1000, descending","x":22.8,"h":970},{"s":"PCAP01_PT1000, descending","x":23.0,"h":955},{"s":"PCAP01_PT1000, descending","x":23.3,"h":953},{"s":"PCAP01_PT1000, descending","x":23.2,"h":935},{"s":"PCAP01_PT1000, descending","x":23.4,"h":915},{"s":"PCAP01_PT1000, descending","x":23.5,"h":900},{"s":"PCAP01_PT1000, descending","x":24.2,"h":898},{"s":"PCAP01_PT1000, descending","x":23.6,"h":880},{"s":"PCAP01_PT1000, descending","x":23.7,"h":860},{"s":"PCAP01_PT1000, descending","x":23.8,"h":850},{"s":"PCAP01_PT1000, descending","x":24.3,"h":848},{"s":"PCAP01_PT1000, descending","x":23.9,"h":830},{"s":"PCAP01_PT1000, descending","x":24.1,"h":810},{"s":"PCAP01_PT1000, descending","x":24.3,"h":800},{"s":"PCAP01_PT1000, descending","x":24.9,"h":798},{"s":"PCAP01_PT1000, descending","x":24.5,"h":780},{"s":"PCAP01_PT1000, descending","x":24.6,"h":760},{"s":"PCAP01_PT1000, descending","x":24.8,"h":740},{"s":"PCAP01_PT1000, descending","x":24.9,"h":720},{"s":"PCAP01_PT1000, descending","x":25.1,"h":700},{"s":"PCAP01_PT1000, descending","x":25.6,"h":698},{"s":"PCAP01_PT1000, descending","x":25.0,"h":680},{"s":"PCAP01_PT1000, descending","x":24.9,"h":660},{"s":"PCAP01_PT1000, descending","x":25.0,"h":645},{"s":"PCAP01_PT1000, descending","x":25.2,"h":630},{"s":"PCAP01_PT1000, descending","x":25.5,"h":615},{"s":"PCAP01_PT1000, descending","x":25.9,"h":605},{"s":"PCAP01_PT1000, descending","x":26.5,"h":600},{"s":"PCAP01_PT1000, descending","x":27.6,"h":598},{"s":"PCAP01_PT1000, descending","x":25.8,"h":596},
{"s":"SHT75, ascending","x":13.5,"h":2200},{"s":"SHT75, ascending","x":13.9,"h":2150},{"s":"SHT75, ascending","x":14.2,"h":2100},{"s":"SHT75, ascending","x":14.5,"h":2050},{"s":"SHT75, ascending","x":14.9,"h":2000},{"s":"SHT75, ascending","x":15.4,"h":1950},{"s":"SHT75, ascending","x":15.8,"h":1900},{"s":"SHT75, ascending","x":16.2,"h":1850},{"s":"SHT75, ascending","x":16.5,"h":1800},{"s":"SHT75, ascending","x":16.6,"h":1775},{"s":"SHT75, ascending","x":16.6,"h":1750},{"s":"SHT75, ascending","x":16.8,"h":1725},{"s":"SHT75, ascending","x":16.9,"h":1700},{"s":"SHT75, ascending","x":17.1,"h":1675},{"s":"SHT75, ascending","x":17.3,"h":1650},{"s":"SHT75, ascending","x":17.4,"h":1625},{"s":"SHT75, ascending","x":17.5,"h":1600},{"s":"SHT75, ascending","x":17.5,"h":1590},{"s":"SHT75, ascending","x":17.2,"h":1580},{"s":"SHT75, ascending","x":16.9,"h":1570},{"s":"SHT75, ascending","x":16.7,"h":1562},{"s":"SHT75, ascending","x":16.7,"h":1555},{"s":"SHT75, ascending","x":16.9,"h":1545},{"s":"SHT75, ascending","x":17.3,"h":1530},{"s":"SHT75, ascending","x":17.8,"h":1520},{"s":"SHT75, ascending","x":18.3,"h":1500},{"s":"SHT75, ascending","x":18.7,"h":1480},{"s":"SHT75, ascending","x":18.9,"h":1460},{"s":"SHT75, ascending","x":19.0,"h":1440},{"s":"SHT75, ascending","x":18.9,"h":1420},{"s":"SHT75, ascending","x":18.7,"h":1400},{"s":"SHT75, ascending","x":18.5,"h":1385},{"s":"SHT75, ascending","x":18.4,"h":1375},{"s":"SHT75, ascending","x":18.4,"h":1368},{"s":"SHT75, ascending","x":18.6,"h":1360},{"s":"SHT75, ascending","x":18.8,"h":1340},{"s":"SHT75, ascending","x":19.0,"h":1320},{"s":"SHT75, ascending","x":19.3,"h":1300},{"s":"SHT75, ascending","x":19.8,"h":1250},{"s":"SHT75, ascending","x":20.4,"h":1200},{"s":"SHT75, ascending","x":20.8,"h":1150},{"s":"SHT75, ascending","x":21.3,"h":1100},{"s":"SHT75, ascending","x":21.7,"h":1050},{"s":"SHT75, ascending","x":22.2,"h":1000},{"s":"SHT75, ascending","x":22.6,"h":950},{"s":"SHT75, ascending","x":23.1,"h":900},{"s":"SHT75, ascending","x":23.5,"h":850},{"s":"SHT75, ascending","x":23.9,"h":800},{"s":"SHT75, ascending","x":24.3,"h":750},{"s":"SHT75, ascending","x":24.7,"h":700},{"s":"SHT75, ascending","x":24.9,"h":680},{"s":"SHT75, ascending","x":25.2,"h":660},{"s":"SHT75, ascending","x":25.4,"h":650},{"s":"SHT75, ascending","x":25.5,"h":635},{"s":"SHT75, ascending","x":25.6,"h":620},{"s":"SHT75, ascending","x":26.0,"h":610},{"s":"SHT75, ascending","x":26.7,"h":605},{"s":"SHT75, ascending","x":28.0,"h":601},{"s":"SHT75, ascending","x":29.4,"h":599},{"s":"SHT75, ascending","x":27.5,"h":597},
{"s":"SHT75, descending","x":13.4,"h":2200},{"s":"SHT75, descending","x":13.7,"h":2150},{"s":"SHT75, descending","x":14.0,"h":2100},{"s":"SHT75, descending","x":14.0,"h":2075},{"s":"SHT75, descending","x":14.0,"h":2050},{"s":"SHT75, descending","x":14.2,"h":2025},{"s":"SHT75, descending","x":14.5,"h":2000},{"s":"SHT75, descending","x":15.0,"h":1950},{"s":"SHT75, descending","x":15.4,"h":1900},{"s":"SHT75, descending","x":15.9,"h":1850},{"s":"SHT75, descending","x":16.4,"h":1800},{"s":"SHT75, descending","x":16.6,"h":1775},{"s":"SHT75, descending","x":16.7,"h":1750},{"s":"SHT75, descending","x":16.7,"h":1725},{"s":"SHT75, descending","x":16.5,"h":1700},{"s":"SHT75, descending","x":16.6,"h":1680},{"s":"SHT75, descending","x":16.8,"h":1650},{"s":"SHT75, descending","x":17.0,"h":1625},{"s":"SHT75, descending","x":17.1,"h":1600},{"s":"SHT75, descending","x":17.2,"h":1580},{"s":"SHT75, descending","x":17.3,"h":1560},{"s":"SHT75, descending","x":17.1,"h":1545},{"s":"SHT75, descending","x":16.9,"h":1530},{"s":"SHT75, descending","x":17.0,"h":1520},{"s":"SHT75, descending","x":17.3,"h":1510},{"s":"SHT75, descending","x":17.6,"h":1495},{"s":"SHT75, descending","x":17.8,"h":1480},{"s":"SHT75, descending","x":17.9,"h":1460},{"s":"SHT75, descending","x":17.8,"h":1445},{"s":"SHT75, descending","x":17.6,"h":1430},{"s":"SHT75, descending","x":17.5,"h":1415},{"s":"SHT75, descending","x":17.6,"h":1400},{"s":"SHT75, descending","x":17.8,"h":1385},{"s":"SHT75, descending","x":18.0,"h":1370},{"s":"SHT75, descending","x":18.4,"h":1350},{"s":"SHT75, descending","x":18.6,"h":1330},{"s":"SHT75, descending","x":18.7,"h":1310},{"s":"SHT75, descending","x":18.9,"h":1290},{"s":"SHT75, descending","x":19.2,"h":1250},{"s":"SHT75, descending","x":19.6,"h":1200},{"s":"SHT75, descending","x":20.1,"h":1150},{"s":"SHT75, descending","x":20.6,"h":1100},{"s":"SHT75, descending","x":21.0,"h":1050},{"s":"SHT75, descending","x":21.5,"h":1000},{"s":"SHT75, descending","x":21.8,"h":975},{"s":"SHT75, descending","x":22.0,"h":950},{"s":"SHT75, descending","x":22.3,"h":925},{"s":"SHT75, descending","x":22.7,"h":900},{"s":"SHT75, descending","x":23.1,"h":850},{"s":"SHT75, descending","x":23.6,"h":800},{"s":"SHT75, descending","x":24.0,"h":750},{"s":"SHT75, descending","x":24.5,"h":700},{"s":"SHT75, descending","x":24.7,"h":680},{"s":"SHT75, descending","x":24.8,"h":660},{"s":"SHT75, descending","x":24.9,"h":640},{"s":"SHT75, descending","x":25.1,"h":620},{"s":"SHT75, descending","x":25.3,"h":610},{"s":"SHT75, descending","x":25.5,"h":603},{"s":"SHT75, descending","x":26.2,"h":599}
]
},
"spacing": 74,
"resolve": {"scale": {"color": "independent", "x": "independent", "y": "independent"}, "legend": {"color": "independent"}},
"hconcat": [
{
 "title": "Sensor comparison, Vertical profile",
 "width": 468, "height": 369,
 "data": {"name": "rh"},
 "layer": [
  {"mark": {"type": "line", "strokeWidth": 1},
   "encoding": {
    "x": {"field": "x", "type": "quantitative", "scale": {"domain": [20, 60], "nice": false, "zero": false}, "axis": {"title": "Relative humidity [%RH]", "values": [20,25,30,35,40,45,50,55,60], "orient": "bottom"}},
    "y": {"field": "h", "type": "quantitative", "scale": {"domain": [400, 2200], "nice": false, "zero": false}, "axis": {"title": "Height above Mean Sea Level [m]", "values": [400,600,800,1000,1200,1400,1600,1800,2000,2200], "orient": "left"}},
    "color": {"field": "s", "type": "nominal", "scale": {"domain": ["UPSI, ascending", "UPSI, descending", "SHT75, ascending", "SHT75, descending"], "range": ["#0000ff", "#00ff00", "#ff00ff", "#000000"]}, "legend": {"title": null}},
    "order": {"field": "h", "sort": "descending"}
   }},
  {"mark": {"type": "point", "opacity": 0},
   "encoding": {
    "x": {"field": "x", "type": "quantitative", "axis": {"title": null, "labels": false, "values": [20,25,30,35,40,45,50,55,60], "orient": "top"}},
    "y": {"field": "h", "type": "quantitative", "axis": {"title": null, "labels": false, "values": [400,600,800,1000,1200,1400,1600,1800,2000,2200], "orient": "right"}}
   }}
 ],
 "resolve": {"axis": {"x": "independent", "y": "independent"}}
},
{
 "title": "Sensor comparison, Vertical profile",
 "width": 468, "height": 369,
 "data": {"name": "tp"},
 "layer": [
  {"mark": {"type": "line", "strokeWidth": 1},
   "encoding": {
    "x": {"field": "x", "type": "quantitative", "scale": {"domain": [10, 40], "nice": false, "zero": false}, "axis": {"title": "temperature [° C]", "values": [10,15,20,25,30,35,40], "orient": "bottom"}},
    "y": {"field": "h", "type": "quantitative", "scale": {"domain": [400, 2200], "nice": false, "zero": false}, "axis": {"title": "Height above Mean Sea Level [m]", "values": [400,600,800,1000,1200,1400,1600,1800,2000,2200], "orient": "left"}},
    "color": {"field": "s", "type": "nominal", "scale": {"domain": ["PCAP01_PT1000, ascending", "PCAP01_PT1000, descending", "SHT75, ascending", "SHT75, descending"], "range": ["#0000ff", "#00ff00", "#ff00ff", "#000000"]}, "legend": {"title": null}},
    "order": {"field": "h", "sort": "descending"}
   }},
  {"mark": {"type": "point", "opacity": 0},
   "encoding": {
    "x": {"field": "x", "type": "quantitative", "axis": {"title": null, "labels": false, "values": [10,15,20,25,30,35,40], "orient": "top"}},
    "y": {"field": "h", "type": "quantitative", "axis": {"title": null, "labels": false, "values": [400,600,800,1000,1200,1400,1600,1800,2000,2200], "orient": "right"}}
   }}
 ],
 "resolve": {"axis": {"x": "independent", "y": "independent"}}
}
]
}
